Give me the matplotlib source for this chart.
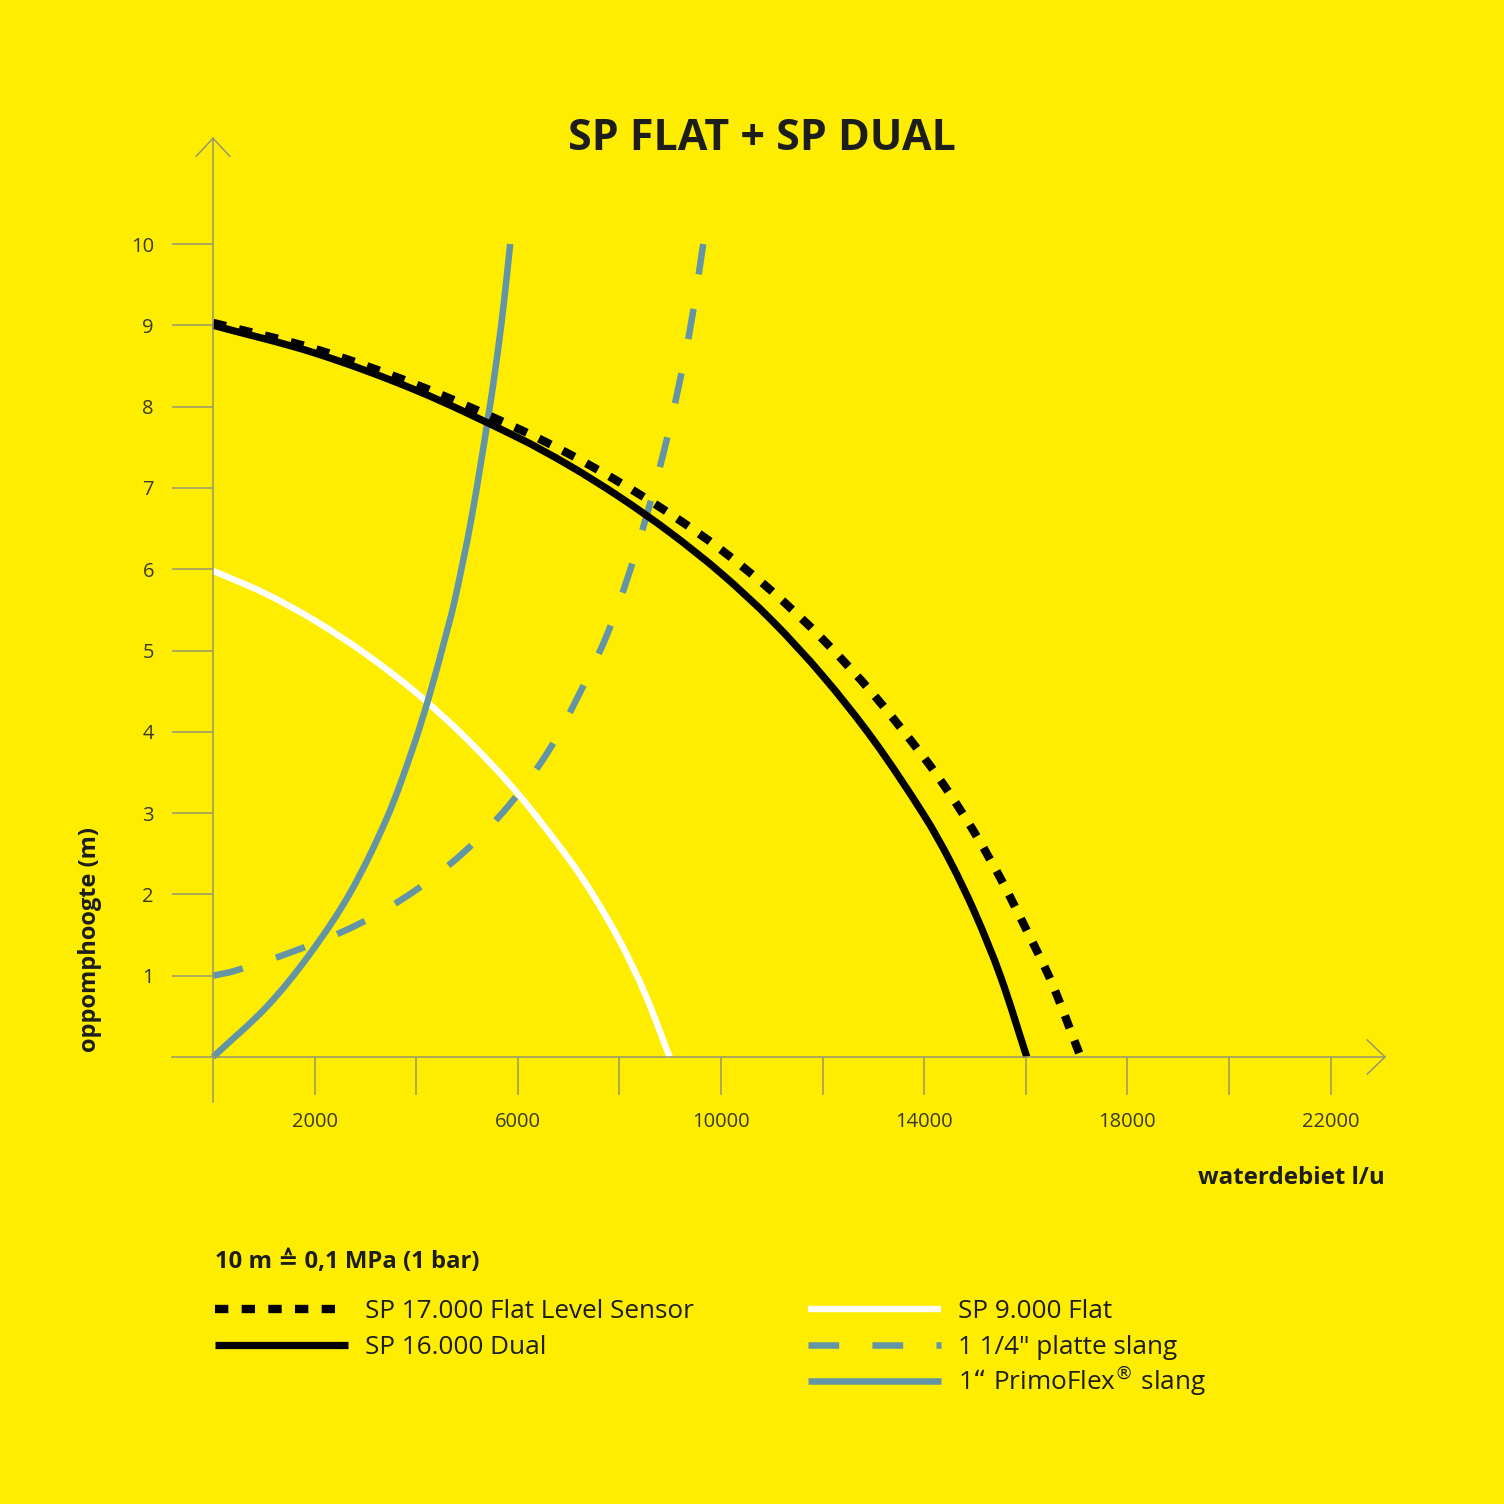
import matplotlib
matplotlib.use("Agg")
import numpy as np
import matplotlib.pyplot as plt
from matplotlib.lines import Line2D
from matplotlib.path import Path
from matplotlib.patches import PathPatch

# ---------------- data ----------------
dual_x = [0, 2000, 4000, 6000, 7000, 8000, 9000, 10000, 11000, 12000, 13000, 14000, 14500, 15000, 15500, 16020]
dual_y = [9.00, 8.66, 8.20, 7.62, 7.28, 6.89, 6.45, 5.95, 5.37, 4.69, 3.90, 2.97, 2.42, 1.77, 0.995, 0.00]

sensor_x = [0, 2000, 4000, 6000, 7000, 8000, 9000, 10000, 11000, 12000, 13000, 14000, 14500, 15000, 15500, 16000, 16500, 17080]
sensor_y = [9.03, 8.71, 8.27, 7.73, 7.42, 7.07, 6.68, 6.24, 5.73, 5.14, 4.46, 3.68, 3.24, 2.75, 2.20, 1.58, 0.93, 0.00]

flat_x = [0, 1000, 2000, 3000, 4000, 5000, 6000, 7000, 7500, 8000, 8500, 8990]
flat_y = [5.98, 5.71, 5.37, 4.96, 4.48, 3.91, 3.24, 2.44, 1.975, 1.435, 0.785, 0.00]

platte_x = [0, 430, 1630, 2820, 3940, 4940, 5830, 6580, 7190, 7740, 8170, 8540, 8880, 9150, 9410, 9650]
platte_y = [1.00, 1.06, 1.31, 1.62, 2.03, 2.52, 3.10, 3.74, 4.44, 5.17, 5.91, 6.67, 7.46, 8.20, 9.02, 10.00]

primo_x = [0, 1060, 1910, 2700, 3430, 3940, 4270, 4610, 4760, 5080, 5420, 5600, 5730, 5850]
primo_y = [0.00, 0.62, 1.27, 2.02, 2.95, 3.81, 4.47, 5.25, 5.62, 6.60, 7.88, 8.65, 9.30, 10.00]

y_ticks = [1, 2, 3, 4, 5, 6, 7, 8, 9, 10]
x_major = [2000, 6000, 10000, 14000, 18000, 22000]
x_minor = [4000, 8000, 12000, 16000, 20000]

labels = ["SP 17.000 Flat Level Sensor", "SP 16.000 Dual",
          "SP 9.000 Flat", "1 1/4\" platte slang", "1\u201c PrimoFlex$^{\u00ae}$ slang"]

title = "SP FLAT + SP DUAL"
xlabel = "waterdebiet l/u"
ylabel = "oppomphoogte (m)"
note = "10 m \u2259 0,1 MPa (1 bar)"

# ---------------- style ----------------
YELLOW = "#ffed00"
BLUE = "#6495a5"
AXC = "#9a9670"
TXT = "#1d1d1b"
TICKTXT = "#3c3a28"
plt.rcParams["font.family"] = ["Open Sans", "DejaVu Sans"]
DPI = 100


def smooth_path(xs, ys, trans):
    """Chord-length Catmull-Rom curve through the read points, as cubic Bezier path."""
    p = np.column_stack([xs, ys]).astype(float)
    d = trans.transform(p)
    t = np.concatenate([[0.0], np.cumsum(np.hypot(*np.diff(d, axis=0).T))])
    n = len(p)
    m = np.zeros_like(p)
    m[0] = (p[1] - p[0]) / (t[1] - t[0])
    m[-1] = (p[-1] - p[-2]) / (t[-1] - t[-2])
    for i in range(1, n - 1):
        m[i] = (p[i + 1] - p[i - 1]) / (t[i + 1] - t[i - 1])
    verts = [p[0]]
    codes = [Path.MOVETO]
    for i in range(n - 1):
        h = (t[i + 1] - t[i]) / 3.0
        verts += [p[i] + m[i] * h, p[i + 1] - m[i + 1] * h, p[i + 1]]
        codes += [Path.CURVE4] * 3
    return Path(verts, codes)


def path_length_pt(path, trans):
    disp = trans.transform_path(path)
    total = 0.0
    for poly in disp.to_polygons(closed_only=False):
        total += np.hypot(*np.diff(poly, axis=0).T).sum()
    return total * 72.0 / DPI


W = 1504
fig = plt.figure(figsize=(15.04, 15.04), dpi=DPI, facecolor=YELLOW)
ax = fig.add_axes([0, 0, 1, 1])
ax.set_facecolor(YELLOW)
# pixel mapping: x_px = 213 + 0.0508*x ; y_px = 1057 - 81.3*y
ax.set_xlim(-213 / 0.0508, (W - 213) / 0.0508)
ax.set_ylim((1057 - W) / 81.3, 1057 / 81.3)

for s in ["top", "right"]:
    ax.spines[s].set_visible(False)
ax.spines["left"].set_position(("data", 0))
ax.spines["bottom"].set_position(("data", 0))
ax.spines["left"].set_bounds(-0.55, 11.3)
ax.spines["bottom"].set_bounds(-807, 23070)
for s in ["left", "bottom"]:
    ax.spines[s].set_color(AXC)
    ax.spines[s].set_linewidth(1.1)

ax.set_yticks(y_ticks)
ax.set_yticklabels([str(v) for v in y_ticks])
ax.set_xticks(x_major)
ax.set_xticklabels([str(v) for v in x_major])
ax.set_xticks(x_minor, minor=True)
ax.tick_params(axis="y", direction="out", length=29.5, width=1.1, color=AXC,
               labelsize=14.5, labelcolor=TICKTXT, pad=13)
ax.tick_params(axis="x", which="both", direction="out", length=27.5, width=1.1, color=AXC,
               labelsize=14.5, labelcolor=TICKTXT, pad=12)

# arrow heads
ax.plot([-330, 0, 330], [11.08, 11.3, 11.08], color=AXC, lw=1.1, clip_on=False)
ax.plot([22720, 23070, 22720], [0.21, 0, -0.21], color=AXC, lw=1.1, clip_on=False)

# curve styles
styles = {
    "sensor": dict(color="black", lw=6.0, ls=(0, (1.6, 1.6))),
    "dual": dict(color="black", lw=5.2, ls="-"),
    "flat": dict(color="white", lw=4.6, ls="-"),
    "platte": dict(color=BLUE, lw=4.7, ls=(0, (4.7, 5.1))),
    "primo": dict(color=BLUE, lw=4.7, ls="-"),
}
series = [("flat", flat_x, flat_y), ("primo", primo_x, primo_y),
          ("platte", platte_x, platte_y), ("dual", dual_x, dual_y),
          ("sensor", sensor_x, sensor_y)]
for name, xs, ys in series:
    st = styles[name]
    path = smooth_path(xs, ys, ax.transData)
    ls = st["ls"]
    if name == "platte":
        # fit the dash rhythm so the curve starts and ends with a dash
        lw = st["lw"]
        dash = ls[1][0] * lw
        period = (ls[1][0] + ls[1][1]) * lw
        L = path_length_pt(path, ax.transData)
        k = max(1, round((L - dash) / period))
        gap = (L - dash) / k - dash
        ls = (0, (ls[1][0], gap / lw))
    patch = PathPatch(path, fill=False, edgecolor=st["color"],
                      lw=st["lw"], linestyle=ls, capstyle="butt", joinstyle="round")
    ax.add_patch(patch)

handles = {name: Line2D([], [], color=st["color"], lw=st["lw"], linestyle=st["ls"],
                        dash_capstyle="butt", solid_capstyle="butt")
           for name, st in styles.items()}

# texts
fig.text(762 / W, 1 - 139 / W, title, ha="center", va="center", fontsize=31,
         fontweight="bold", color=TXT)
fig.text(90 / W, 1 - 940 / W, ylabel, ha="center", va="center", rotation=90,
         fontsize=17, fontweight="bold", color=TXT)
fig.text(1385 / W, 1 - 1178 / W, xlabel, ha="right", va="center", fontsize=17.4,
         fontweight="bold", color=TXT)
fig.text(215 / W, 1 - 1262 / W, note, ha="left", va="center", fontsize=17.2,
         fontweight="bold", color=TXT)

leg_kw = dict(frameon=False, fontsize=18.8, handlelength=5.1, handletextpad=0.65,
              labelspacing=0.44, borderpad=0, borderaxespad=0, loc="upper left",
              bbox_transform=fig.transFigure)
legs = [
    ([handles["sensor"], handles["dual"]], labels[:2], (215 / W, 1 - 1299 / W)),
    ([handles["flat"], handles["platte"]], labels[2:4], (808 / W, 1 - 1299 / W)),
]
for hs, ls_, anchor in legs:
    lg = ax.legend(hs, ls_, bbox_to_anchor=anchor, **leg_kw)
    for t in lg.get_texts():
        t.set_color(TXT)
    ax.add_artist(lg)
kw3 = dict(leg_kw)
kw3["loc"] = "center left"
lg3 = ax.legend([handles["primo"]], labels[4:], bbox_to_anchor=(808 / W, 1 - 1381 / W), **kw3)
for t in lg3.get_texts():
    t.set_color(TXT)

fig.savefig("out.png", dpi=DPI, facecolor=YELLOW)
